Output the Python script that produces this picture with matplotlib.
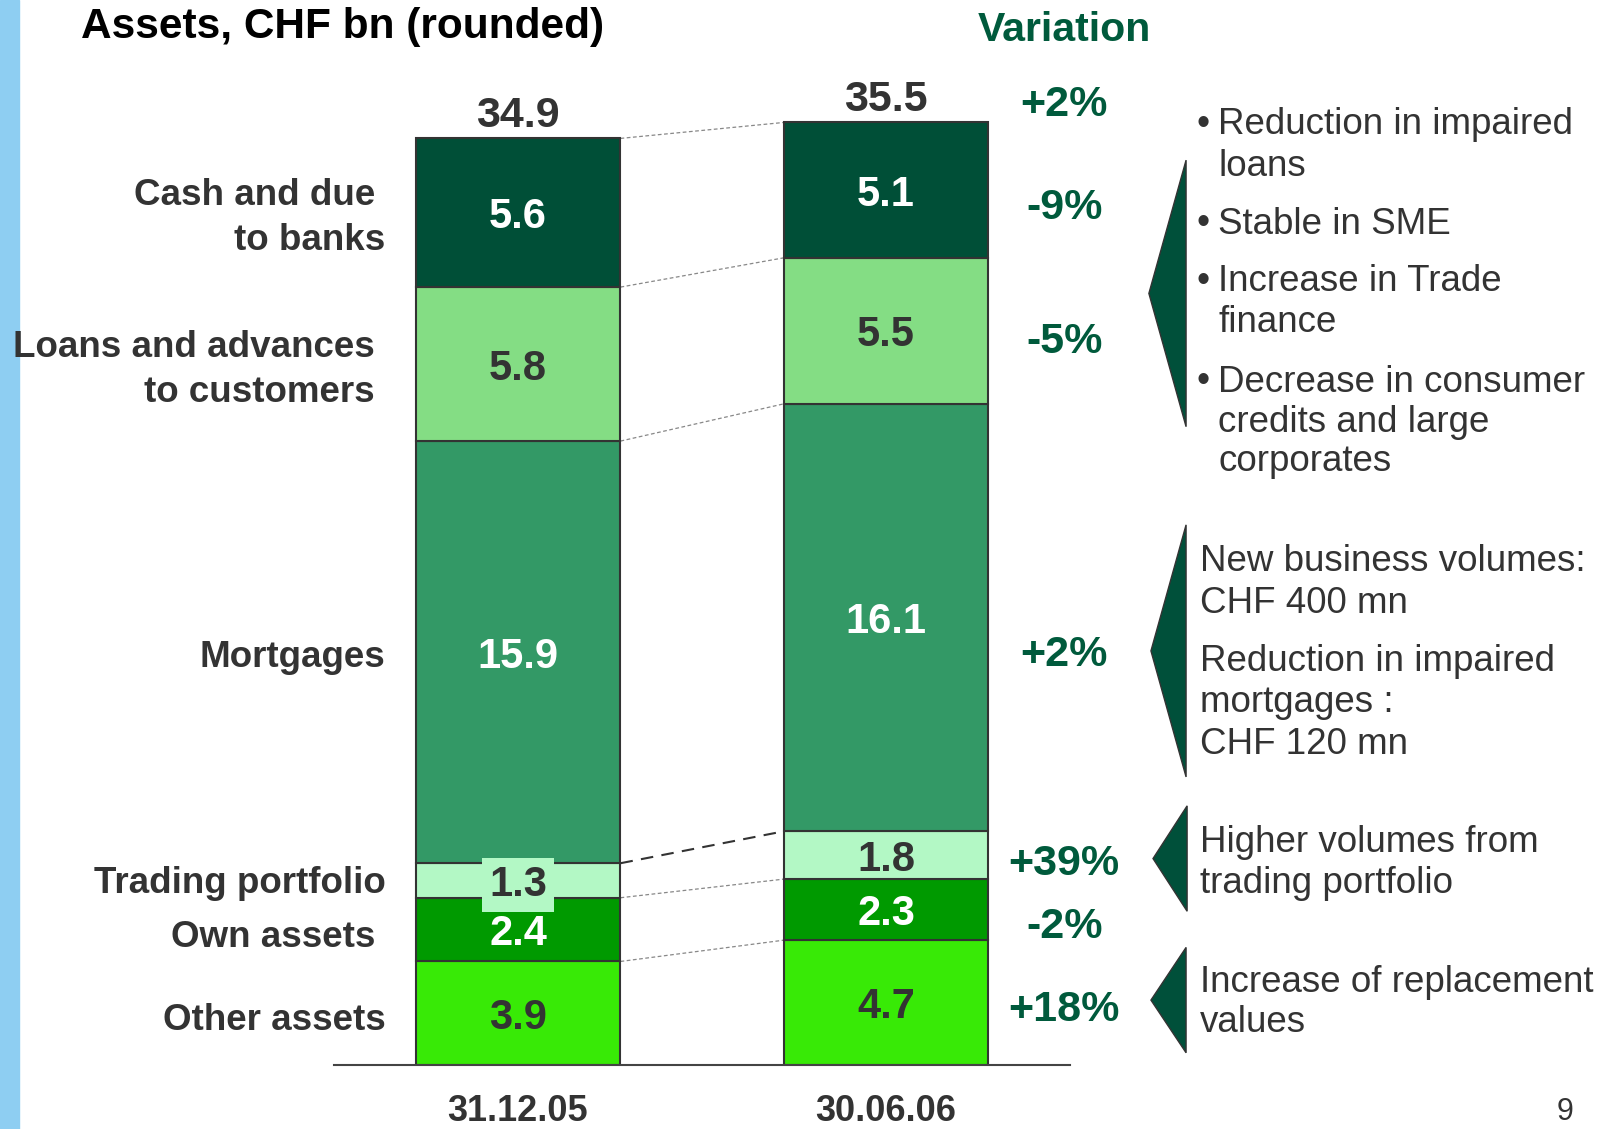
import matplotlib.pyplot as plt
from matplotlib.patches import Polygon, Rectangle
import numpy as np

# data
segments = ['Other assets', 'Own assets', 'Trading portfolio', 'Mortgages',
            'Loans and advances to customers', 'Cash and due to banks']
dates = ['31.12.05', '30.06.06']
vals_05 = [3.9, 2.4, 1.3, 15.9, 5.8, 5.6]
vals_06 = [4.7, 2.3, 1.8, 16.1, 5.5, 5.1]
totals = [34.9, 35.5]
variation = ['+18%', '-2%', '+39%', '+2%', '-5%', '-9%']
total_variation = '+2%'

colors = ['#38EA06', '#009A00', '#B3F8C5', '#339966', '#84DD84', '#004F37']
txt_colors = ['#333333', 'white', '#333333', 'white', '#333333', 'white']

W, H = 1620, 1129
S = 1620 / 1568  # shown -> full px


def fx(x):
    return x * S / W


def fy(y):
    return 1 - y * S / H


fig = plt.figure(figsize=(16.2, 11.29), dpi=100)
plt.rcParams['font.family'] = ['Liberation Sans', 'DejaVu Sans']

# blue strip on the left
fig.patches.append(Rectangle((0, 0), 19 / W, 1, transform=fig.transFigure,
                             color='#8ECEF2', zorder=0))

# bar axes: baseline at 1065 px, 1 unit = 26.55 px
ax = fig.add_axes([334 / W, (H - 1065) / H, 736 / W, 40 * 26.55 / H])
ax.set_xlim(-0.5, 1.5)
ax.set_ylim(0, 40)
bw = 0.557

bottoms = [np.concatenate([[0], np.cumsum(v)[:-1]]) for v in (vals_05, vals_06)]
for i, vals in enumerate((vals_05, vals_06)):
    ax.bar(i, vals, bw, bottom=bottoms[i], color=colors,
           edgecolor='#333333', linewidth=1.5, zorder=2)
    for j, v in enumerate(vals):
        t = ax.text(i, bottoms[i][j] + v / 2, f'{v:.1f}', ha='center',
                    va='center_baseline', fontsize=30, fontweight='bold',
                    color=txt_colors[j], zorder=4)
        if i == 0 and segments[j] == 'Trading portfolio':
            t.set_bbox(dict(facecolor=colors[j], edgecolor='none',
                            boxstyle='square,pad=0.16'))
    ax.text(i, totals[i] + 1.0, f'{totals[i]:.1f}', ha='center', va='center_baseline',
            fontsize=31, fontweight='bold', color='#333333')

# connector lines between the bars
tops05 = np.cumsum(vals_05)
tops06 = np.cumsum(vals_06)
for j in range(len(segments)):
    if segments[j] == 'Trading portfolio':
        ax.plot([bw / 2, 1 - bw / 2], [tops05[j], tops06[j]], color='#333333',
                lw=1.5, dashes=(6, 4), zorder=1)
    else:
        ax.plot([bw / 2, 1 - bw / 2], [tops05[j], tops06[j]], color='#888888',
                lw=0.9, dashes=(3, 2), zorder=1)

for s in ['top', 'left', 'right']:
    ax.spines[s].set_visible(False)
ax.spines['bottom'].set_color('#444444')
ax.spines['bottom'].set_linewidth(1.5)
ax.set_yticks([])
ax.set_xticks([0, 1], dates)
ax.tick_params(axis='x', length=0, pad=21, labelsize=26, labelcolor='#333333')
for lab in ax.get_xticklabels():
    lab.set_fontweight('bold')
ax.patch.set_visible(False)

# title
fig.text(fx(78), fy(26), 'Assets, CHF bn (rounded)', ha='left', va='center',
         fontsize=30.5, fontweight='bold', color='black')
fig.text(fx(1030), fy(29), 'Variation', ha='center', va='center',
         fontsize=29.5, fontweight='bold', color='#005A3C')

# category labels
cat_lines = [('Cash and due', 363, 185), ('to banks', 373, 229),
             ('Loans and advances', 363, 332), ('to customers', 363, 376),
             ('Mortgages', 373, 633), ('Trading portfolio', 373, 851),
             ('Own assets', 363, 904), ('Other assets', 373, 984)]
for txt, x, y in cat_lines:
    fig.text(fx(x), fy(y), txt, ha='right', va='center_baseline', fontsize=26.5,
             fontweight='bold', color='#333333')

# variation labels
var_y = [973, 893, 832, 630, 327, 197]
fig.text(fx(1030), fy(97), total_variation, ha='center', va='center_baseline',
         fontsize=31, fontweight='bold', color='#005A3C')
for v, y in zip(variation, var_y):
    fig.text(fx(1030), fy(y), v, ha='center', va='center_baseline',
             fontsize=31, fontweight='bold', color='#005A3C')

# arrows
tris = [(1148, 155, 413, 1112, 284), (1148, 508, 752, 1114, 630),
        (1149, 780, 882, 1116, 831), (1148, 917, 1019, 1114, 968)]
for xr, y0, y1, xt, yt in tris:
    fig.patches.append(Polygon([(fx(xr), fy(y0)), (fx(xr), fy(y1)), (fx(xt), fy(yt))],
                               closed=True, transform=fig.transFigure,
                               facecolor='#00503A', edgecolor='#333333', lw=1))

# comments on the right
bullets = [('Reduction in impaired', 117, True), ('loans', 157, False),
           ('Stable in SME', 213, True), ('Increase in Trade', 269, True),
           ('finance', 308, False), ('Decrease in consumer', 366, True),
           ('credits and large', 405, False), ('corporates', 443, False)]
for txt, y, dot in bullets:
    if dot:
        fig.text(fx(1158), fy(y), '•', ha='left', va='center_baseline', fontsize=27,
                 color='#333333')
    fig.text(fx(1179), fy(y), txt, ha='left', va='center_baseline', fontsize=26.5,
             color='#333333')

notes = [('New business volumes:', 540), ('CHF 400 mn', 580),
         ('Reduction in impaired', 636), ('mortgages :', 676), ('CHF 120 mn', 717),
         ('Higher volumes from', 812), ('trading portfolio', 851),
         ('Increase of replacement', 947), ('values', 986)]
for txt, y in notes:
    fig.text(fx(1161), fy(y), txt, ha='left', va='center_baseline', fontsize=26.5,
             color='#333333')

fig.text(fx(1515), fy(1091), '9', ha='center', va='bottom', fontsize=22, color='#333333')

fig.savefig('out.png', dpi=100)
